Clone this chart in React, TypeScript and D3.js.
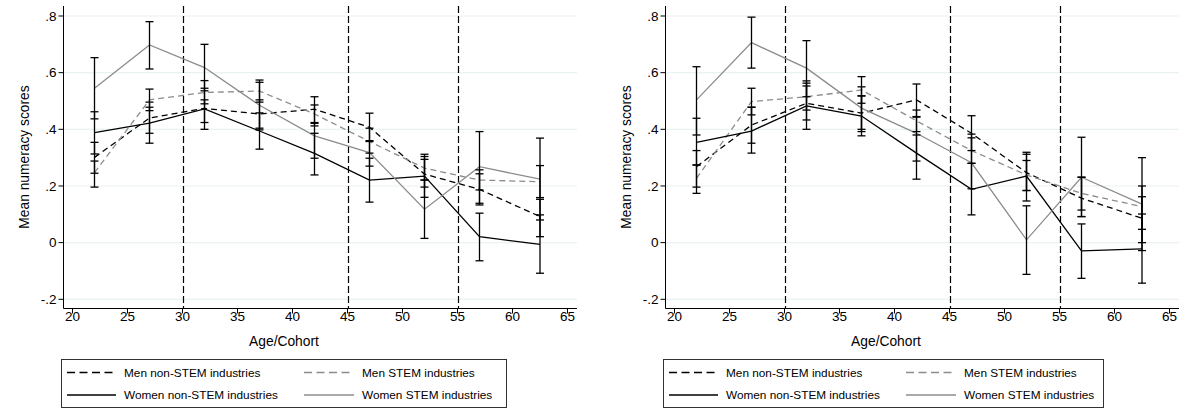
import React from "react";
import * as d3 from "d3";

// ---- data ----
const ages = [22, 27, 32, 37, 42, 47, 52, 57, 62.5];
const xTicks = [20, 25, 30, 35, 40, 45, 50, 55, 60, 65];
const yTicks = [-0.2, 0, 0.2, 0.4, 0.6, 0.8];
const yTickLabels = ["-.2", "0", ".2", ".4", ".6", ".8"];
const refLines = [30, 45, 55];
const seriesNames = [
  "Men non-STEM industries",
  "Men STEM industries",
  "Women non-STEM industries",
  "Women STEM industries",
];

// Left panel
const L_menNon = [0.301, 0.44, 0.474, 0.454, 0.471, 0.407, 0.242, 0.188, 0.092];
const L_menNonLo = [0.245, 0.386, 0.424, 0.404, 0.424, 0.357, 0.196, 0.133, 0.021];
const L_menNonHi = [0.354, 0.496, 0.504, 0.504, 0.515, 0.457, 0.294, 0.243, 0.153];
const L_menStem = [0.247, 0.504, 0.53, 0.535, 0.454, 0.357, 0.263, 0.221, 0.215];
const L_menStemLo = [0.196, 0.466, 0.49, 0.496, 0.412, 0.316, 0.221, 0.186, 0.159];
const L_menStemHi = [0.288, 0.542, 0.572, 0.574, 0.486, 0.404, 0.304, 0.257, 0.272];
const L_womNon = [0.388, 0.422, 0.472, 0.394, 0.315, 0.221, 0.235, 0.021, -0.006];
const L_womNonLo = [0.313, 0.351, 0.4, 0.33, 0.239, 0.143, 0.16, -0.064, -0.108];
const L_womNonHi = [0.462, 0.478, 0.545, 0.458, 0.386, 0.298, 0.312, 0.104, 0.098];
const L_womStem = [0.545, 0.698, 0.618, 0.485, 0.377, 0.318, 0.118, 0.268, 0.224];
const L_womStemLo = [0.437, 0.613, 0.536, 0.398, 0.298, 0.27, 0.015, 0.139, 0.08];
const L_womStemHi = [0.653, 0.78, 0.7, 0.566, 0.421, 0.36, 0.221, 0.392, 0.369];

// Right panel
const R_menNon = [0.268, 0.415, 0.492, 0.457, 0.504, 0.386, 0.247, 0.157, 0.086];
const R_menNonLo = [0.196, 0.351, 0.433, 0.392, 0.445, 0.325, 0.184, 0.092, 0.0];
const R_menNonHi = [0.325, 0.478, 0.553, 0.518, 0.56, 0.448, 0.312, 0.231, 0.162];
const R_menStem = [0.227, 0.498, 0.515, 0.539, 0.43, 0.325, 0.239, 0.174, 0.127];
const R_menStemLo = [0.174, 0.451, 0.468, 0.492, 0.392, 0.28, 0.184, 0.115, 0.047];
const R_menStemHi = [0.274, 0.545, 0.563, 0.586, 0.468, 0.383, 0.29, 0.231, 0.2];
const R_womNon = [0.354, 0.394, 0.483, 0.447, 0.316, 0.188, 0.235, -0.029, -0.022];
const R_womNonLo = [0.274, 0.316, 0.4, 0.377, 0.224, 0.098, 0.147, -0.126, -0.143];
const R_womNonHi = [0.439, 0.478, 0.571, 0.518, 0.38, 0.28, 0.319, 0.066, 0.101];
const R_womStem = [0.504, 0.706, 0.616, 0.475, 0.386, 0.282, 0.01, 0.231, 0.136];
const R_womStemLo = [0.38, 0.616, 0.515, 0.4, 0.288, 0.19, -0.112, 0.092, -0.028];
const R_womStemHi = [0.621, 0.796, 0.713, 0.55, 0.443, 0.37, 0.13, 0.372, 0.3];

const GRAY = "#8c8c8c";
const FONT = "Arial, 'Liberation Sans', Helvetica, sans-serif";

type Series = { mean: number[]; lo: number[]; hi: number[]; color: string; dash?: string };

const styles = [
  { color: "#000", dash: "6,4" },
  { color: GRAY, dash: "6,4" },
  { color: "#000", dash: undefined },
  { color: GRAY, dash: undefined },
];

const leftSeries: Series[] = [
  { mean: L_menNon, lo: L_menNonLo, hi: L_menNonHi, ...styles[0] },
  { mean: L_menStem, lo: L_menStemLo, hi: L_menStemHi, ...styles[1] },
  { mean: L_womNon, lo: L_womNonLo, hi: L_womNonHi, ...styles[2] },
  { mean: L_womStem, lo: L_womStemLo, hi: L_womStemHi, ...styles[3] },
];
const rightSeries: Series[] = [
  { mean: R_menNon, lo: R_menNonLo, hi: R_menNonHi, ...styles[0] },
  { mean: R_menStem, lo: R_menStemLo, hi: R_menStemHi, ...styles[1] },
  { mean: R_womNon, lo: R_womNonLo, hi: R_womNonHi, ...styles[2] },
  { mean: R_womStem, lo: R_womStemLo, hi: R_womStemHi, ...styles[3] },
];

function Panel({ ox, series }: { ox: number; series: Series[] }) {
  const axisLeft = ox + 63.5;
  const axisRight = ox + 577;
  const axisBottom = 308.5;
  const axisTop = 6;
  const x = d3.scaleLinear().domain([20, 65]).range([ox + 72.5, ox + 567.5]);
  const y = d3.scaleLinear().domain([-0.2, 0.8]).range([299.3, 16]);
  const line = d3
    .line<number>()
    .x((_, i) => x(ages[i]))
    .y((v) => y(v));
  const capW = 4;

  return (
    <g>
      {/* grid */}
      {yTicks.map((t) => (
        <line key={"g" + t} x1={axisLeft} x2={axisRight} y1={y(t)} y2={y(t)} stroke="#eaf2f3" strokeWidth={1.2} />
      ))}
      {/* reference lines */}
      {refLines.map((r) => (
        <line
          key={"r" + r}
          x1={Math.round(x(r)) + 0.5}
          x2={Math.round(x(r)) + 0.5}
          y1={axisTop}
          y2={axisBottom}
          stroke="#000"
          strokeWidth={1.2}
          strokeDasharray="7,3"
        />
      ))}
      {/* lines */}
      {series.map((s, si) => (
        <path key={"l" + si} d={line(s.mean) || ""} fill="none" stroke={s.color} strokeWidth={1.3} strokeDasharray={s.dash} />
      ))}
      {/* error bars */}
      {series.map((s, si) =>
        ages.map((a, i) => (
          <g key={"e" + si + "-" + i} stroke="#000" strokeWidth={1.3}>
            <line x1={x(a)} x2={x(a)} y1={y(s.lo[i])} y2={y(s.hi[i])} />
            <line x1={x(a) - capW} x2={x(a) + capW} y1={y(s.lo[i])} y2={y(s.lo[i])} />
            <line x1={x(a) - capW} x2={x(a) + capW} y1={y(s.hi[i])} y2={y(s.hi[i])} />
          </g>
        ))
      )}
      {/* axes */}
      <line x1={axisLeft} x2={axisLeft} y1={axisTop} y2={axisBottom} stroke="#000" strokeWidth={1} />
      <line x1={axisLeft} x2={axisRight} y1={axisBottom} y2={axisBottom} stroke="#000" strokeWidth={1} />
      {yTicks.map((t, i) => (
        <g key={"yt" + t}>
          <line x1={axisLeft - 5} x2={axisLeft} y1={y(t)} y2={y(t)} stroke="#000" strokeWidth={1} />
          <text x={axisLeft - 7} y={y(t)} dy="0.35em" textAnchor="end" fontSize={13.5} fontFamily={FONT} fill="#000">
            {yTickLabels[i]}
          </text>
        </g>
      ))}
      {xTicks.map((t) => (
        <g key={"xt" + t}>
          <line x1={x(t)} x2={x(t)} y1={axisBottom} y2={axisBottom + 5} stroke="#000" strokeWidth={1} />
          <text x={x(t)} y={axisBottom + 12.5} textAnchor="middle" fontSize={13.5} fontFamily={FONT} fill="#000">
            {t}
          </text>
        </g>
      ))}
      <text x={ox + 284} y={346} textAnchor="middle" fontSize={13.8} fontFamily={FONT} fill="#000">
        Age/Cohort
      </text>
      <text
        transform={`translate(${ox + 29},157) rotate(-90)`}
        textAnchor="middle"
        fontSize={13.8}
        fontFamily={FONT}
        fill="#000"
      >
        Mean numeracy scores
      </text>
      {/* legend */}
      <Legend x0={ox + 61} width={ox === 0 ? 445 : 440} />
    </g>
  );
}

function Legend({ x0, width }: { x0: number; width: number }) {
  const rows = [372.5, 395];
  const colLine = [
    [6, 55],
    [243, 293],
  ];
  const colText = [63, 301];
  return (
    <g>
      <rect x={x0 + 0.5} y={359.5} width={width} height={48} fill="#fff" stroke="#333" strokeWidth={1} />
      {seriesNames.map((name, i) => {
        const col = i % 2;
        const row = Math.floor(i / 2);
        const st = styles[i];
        return (
          <g key={name}>
            <line
              x1={x0 + colLine[col][0]}
              x2={x0 + colLine[col][1]}
              y1={rows[row]}
              y2={rows[row]}
              stroke={st.color}
              strokeWidth={1.3}
              strokeDasharray={st.dash ? "8,4.5" : undefined}
            />
            <text x={x0 + colText[col]} y={rows[row]} dy="0.35em" fontSize={11.8} fontFamily={FONT} fill="#000">
              {name}
            </text>
          </g>
        );
      })}
    </g>
  );
}

export default function App() {
  return (
    <svg
      width={1186}
      height={410}
      viewBox="0 0 1186 410"
      style={{ position: "absolute", left: 0, top: 0, background: "#fff" }}
    >
      <rect x={0} y={0} width={1186} height={410} fill="#fff" />
      <Panel ox={0} series={leftSeries} />
      <Panel ox={602} series={rightSeries} />
    </svg>
  );
}
